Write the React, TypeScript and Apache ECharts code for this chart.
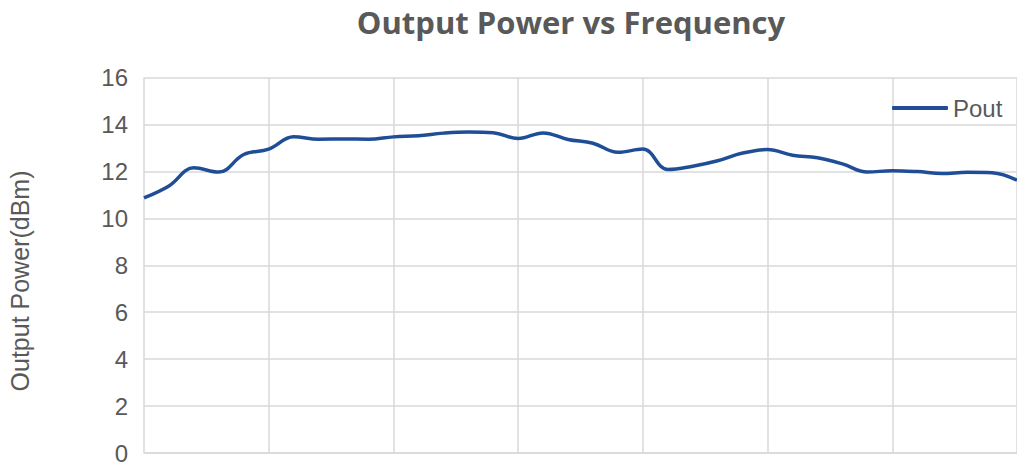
import React, { useEffect, useRef } from "react";
import * as echarts from "echarts";

const frequency = [
  0, 0.2, 0.4, 0.6, 0.8, 1.0, 1.2, 1.4, 1.6, 1.8, 2.0, 2.2, 2.4, 2.6, 2.8, 3.0, 3.2, 3.4,
  3.6, 3.8, 4.0, 4.2, 4.4, 4.6, 4.8, 5.0, 5.2, 5.4, 5.6, 5.8, 6.0, 6.2, 6.4, 6.6, 6.8, 7.0,
];
const pout = [
  10.87, 11.38, 12.15, 11.97, 12.72, 12.95, 13.48, 13.37, 13.38, 13.37, 13.47, 13.52,
  13.63, 13.68, 13.65, 13.4, 13.64, 13.36, 13.2, 12.81, 12.95, 12.08, 12.22, 12.45,
  12.78, 12.93, 12.69, 12.58, 12.32, 11.97, 12.03, 11.99, 11.91, 11.96, 11.94, 11.62,
];
const yTicks = { min: 0, max: 16, interval: 2 };

export default function App() {
  const ref = useRef<HTMLDivElement>(null);
  useEffect(() => {
    if (!ref.current) return;
    const chart = echarts.init(ref.current, undefined, { renderer: "svg" });
    const text = "#595959";
    const grid = "#D9D9D9";
    const blue = "#1F4E97";
    chart.setOption({
      animation: false,
      title: {
        text: "Output Power vs Frequency",
        left: 566,
        textAlign: "center",
        top: 1,
        textStyle: {
          fontFamily: "Open Sans",
          fontWeight: "bold",
          fontSize: 31,
          color: text,
        },
      },
      legend: {
        data: [{ name: "Pout", icon: "roundRect" }],
        left: 887,
        top: 91,
        itemWidth: 56,
        itemHeight: 4,
        itemGap: 5,
        itemStyle: { color: blue },
        textStyle: { fontFamily: "Liberation Sans", fontSize: 24, color: text },
      },
      graphic: [
        {
          type: "text",
          x: 20,
          y: 281,
          rotation: Math.PI / 2,
          style: {
            text: "Output Power(dBm)",
            fontFamily: "Liberation Sans",
            fontSize: 25,
            fill: text,
            align: "center",
            verticalAlign: "middle",
          },
        },
      ],
      grid: { left: 144, top: 77.5, width: 875, height: 380 },
      xAxis: {
        type: "value",
        min: 0,
        max: 7,
        interval: 1,
        axisLabel: { show: false },
        axisTick: { show: false },
        axisLine: { show: true, lineStyle: { color: grid, width: 1.5 } },
        splitLine: { show: true, lineStyle: { color: grid, width: 1.5 } },
      },
      yAxis: {
        type: "value",
        min: yTicks.min,
        max: yTicks.max,
        interval: yTicks.interval,
        axisLabel: {
          margin: 16,
          fontFamily: "Liberation Sans",
          fontSize: 24,
          color: text,
        },
        axisTick: { show: false },
        axisLine: { show: false },
        splitLine: { show: true, lineStyle: { color: grid, width: 1.5 } },
      },
      series: [
        {
          name: "Pout",
          type: "line",
          data: frequency.map((f, i) => [f, pout[i]]),
          smooth: 0.4,
          showSymbol: false,
          symbol: "none",
          lineStyle: { color: blue, width: 3.5 },
          itemStyle: { color: blue },
        },
      ],
    });
    return () => chart.dispose();
  }, []);
  return (
    <div
      ref={ref}
      style={{ position: "fixed", left: 0, top: 0, width: 1017, height: 465, background: "#fff" }}
    />
  );
}
